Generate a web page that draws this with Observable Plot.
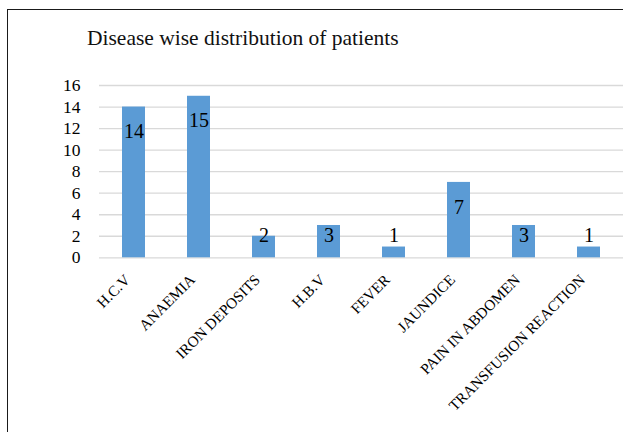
<!DOCTYPE html>
<html>
<head>
<meta charset="utf-8">
<script src="https://cdn.jsdelivr.net/npm/d3@7"></script>
<script src="https://cdn.jsdelivr.net/npm/@observablehq/plot@0.6"></script>
<style>
  html, body { margin: 0; padding: 0; background: #fff; }
  #wrap { position: relative; width: 623px; height: 432px; overflow: hidden; font-family: "Liberation Serif", "Times New Roman", serif; }
  #frame { position: absolute; left: 7px; top: 8.5px; width: 700px; height: 500px; border: 1.5px solid #1a1a1a; box-sizing: border-box; pointer-events: none; }
  #title { position: absolute; left: 87px; top: 27.5px; font-size: 21.5px; color: #111; white-space: nowrap; line-height: 1; font-family: "Liberation Serif", serif; }
  #chart { position: absolute; left: 0; top: 0; }
</style>
</head>
<body>
<div id="wrap">
  <div id="chart"></div>
  <div id="frame"></div>
  <div id="title">Disease wise distribution of patients</div>
</div>
<script>
const categories = ["H.C.V", "ANAEMIA", "IRON DEPOSITS", "H.B.V", "FEVER", "JAUNDICE", "PAIN IN ABDOMEN", "TRANSFUSION REACTION"];
const patients = [14, 15, 2, 3, 1, 7, 3, 1];
const yTicks = [0, 2, 4, 6, 8, 10, 12, 14, 16];

const data = categories.map((c, i) => ({category: c, value: patients[i]}));

const chart = Plot.plot({
  width: 623,
  height: 432,
  marginLeft: 99,
  marginRight: 0,
  marginTop: 85,
  marginBottom: 174.7,
  style: {fontFamily: "'Liberation Serif', 'Times New Roman', serif", background: "transparent", overflow: "visible"},
  x: {type: "band", domain: categories, paddingInner: 0.65, paddingOuter: 0.325, axis: null},
  y: {domain: [0, 16], axis: null},
  marks: [
    Plot.ruleY(yTicks, {y: d => d, stroke: "#d9d9d9", strokeWidth: 1.3}),
    Plot.barY(data, {x: "category", y: "value", fill: "#5b9bd5"}),
    Plot.axisY({ticks: yTicks, tickSize: 0, tickPadding: 19, fontSize: 17.5, fill: "#000", label: null, tickFormat: d => String(d)}),
    Plot.text(data, {
      x: "category",
      y: d => Math.max(d.value - 2.3, 2.05),
      text: d => String(d.value),
      fontSize: 20,
      fill: "#000",
      lineAnchor: "middle"
    }),
    Plot.text(categories, {
      x: d => d,
      frameAnchor: "bottom",
      text: d => d,
      rotate: -45,
      textAnchor: "end",
      lineAnchor: "bottom",
      dx: -3,
      dy: 23,
      fontSize: 15.2,
      fill: "#000"
    })
  ]
});
document.getElementById("chart").appendChild(chart);
</script>
</body>
</html>
